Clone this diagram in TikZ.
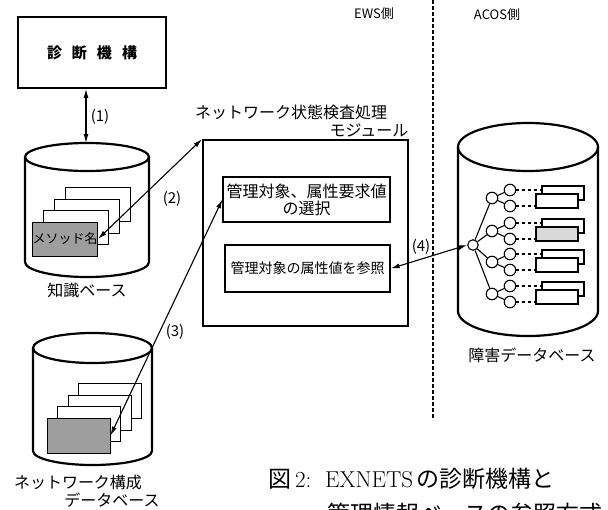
\documentclass[tikz,border=0pt]{standalone}
\usepackage{fontspec}
\newfontfamily\jp{Noto Sans CJK JP}
\usetikzlibrary{arrows.meta}

\begin{document}
\begin{tikzpicture}[
    x=1pt, y=-1pt,
    every node/.style={align=center, inner sep=0pt},
    jp/.style={font=\jp\fontsize{#1}{#1}\selectfont},
    box/.style={draw, line width=1.7pt},
    db/.style={line width=2.2pt},
    card/.style={draw, fill=white, line width=1pt, minimum width=65pt, minimum height=34pt},
    shaded card/.style={card, fill=black!38},
    tree node/.style={circle, draw, fill=white, line width=1.1pt, minimum size=11.5pt},
    leaf/.style={draw, fill=white, line width=1.1pt, minimum width=42pt, minimum height=14pt},
    two way/.style={draw, line width=1.1pt, {Latex[length=9pt,width=5pt]}-{Latex[length=9pt,width=5pt]}},
    divider/.style={draw, line width=1.3pt, dash pattern=on 4pt off 2pt},
    ]
\useasboundingbox (0,0) rectangle (608,509);

% diagnosis unit
\node[box, minimum width=148pt, minimum height=71pt, font=\jp\bfseries\fontsize{15}{15}\selectfont]
    (diag) at (92,52.5) {診\hspace{10pt}断\hspace{10pt}機\hspace{10pt}構};

% knowledge base
\coordinate (kbtop) at (86,143);
\draw[db] (87,157) ellipse [x radius=62, y radius=14];
\draw[db] (25,157) -- (25,262) arc [start angle=180, end angle=0, x radius=62, y radius=15] -- (149,157);
\foreach \i in {3,2,1} {
  \node[card] (kb\i) at (65+11*\i,239-11.5*\i) {};
}
\node[shaded card, jp=13] (method) at (65,239) {メソッド名};
\node[jp=16] (kblabel) at (87,290) {知識ベース};

% network configuration database
\draw[db] (92.5,348) ellipse [x radius=59.5, y radius=15];
\draw[db] (33,348) -- (33,451) arc [start angle=180, end angle=0, x radius=59.5, y radius=14] -- (152,348);
\foreach \i in {3,2,1} {
  \node[card, minimum width=63pt, minimum height=35pt] (nw\i) at (78.5+10.5*\i,435.5-11.5*\i) {};
}
\node[shaded card, minimum width=63pt, minimum height=35pt] (config) at (78.5,435.5) {};
\node[jp=16] (nwlabel1) at (78,482) {ネットワーク構成};
\node[jp=16] (nwlabel2) at (112,500) {データベース};

% network state check module
\node[jp=16] (title1) at (291,112) {ネットワーク状態検査処理};
\node[jp=16] (title2) at (369,130) {モジュール};
\node[box, line width=1.9pt, minimum width=205pt, minimum height=186pt] (module) at (305.5,233) {};
\node[box, line width=1.3pt, minimum width=167pt, minimum height=45pt, jp=16]
    (select) at (306.5,199.5) {管理対象、属性要求値\\[1pt]の選択};
\node[box, line width=1.3pt, minimum width=165pt, minimum height=47pt, jp=14]
    (refer) at (307.5,268.5) {管理対象の属性値を参照};

% EWS / ACOS border
\coordinate (sepA) at (433,0);
\coordinate (sepB) at (433,420);
\draw[divider] (sepA) -- (sepB);
\node[jp=13] (ews) at (374,14) {EWS側};
\node[jp=13] (acos) at (497,15) {ACOS側};

% fault database
\draw[db] (528,147) ellipse [x radius=70, y radius=24];
\draw[db] (458,147) -- (458,311) arc [start angle=180, end angle=0, x radius=70, y radius=25] -- (598,147);
\node[tree node, minimum size=10.5pt] (root) at (473,245) {};
\foreach \yc [count=\i] in {198,231,262,294} {
  \node[tree node] (br\i) at (492,\yc) {};
  \node[tree node] (up\i) at (510,\yc-8) {};
  \node[tree node] (lo\i) at (510,\yc+8) {};
  \node[leaf] (back\i) at (563,\yc-5) {};
  \node[leaf] (front\i) at (557,\yc+3) {};
  \draw[line width=1.1pt] (root) -- (br\i);
  \draw[line width=1.1pt] (br\i) -- (up\i);
  \draw[line width=1.1pt] (br\i) -- (lo\i);
  \draw[line width=1.1pt, dashed] (up\i) -- (up\i -| back\i.west);
  \draw[line width=1.1pt, dashed] (lo\i) -- (lo\i -| front\i.west);
}
\node[leaf, fill=black!15] (front2) at (557,234) {};
\node[jp=16] (fdlabel) at (532,355) {障害データベース};

% accesses
\draw[two way] (diag.south -| kbtop) -- (kbtop);
\node[jp=15] (l1) at (100,117) {(1)};
\draw[two way] (method.east) -- (module.north west);
\node[jp=15] (l2) at (172,199) {(2)};
\draw[two way] (config.east) -- (select.west);
\node[jp=15] (l3) at (175,332) {(3)};
\draw[two way] (refer.east) -- (root.west);
\node[jp=15] (l4) at (421,247) {(4)};

% caption
\node[anchor=base west, font=\fontsize{23}{23}\selectfont] (cap1) at (268,487)
    {{\jp 図}\,2:\ \ EXNETS\,{\jp の診断機構と}};
\node[anchor=base west, jp=23] (cap2) at (327,522) {管理情報ベースの参照方式};
\end{tikzpicture}
\end{document}
